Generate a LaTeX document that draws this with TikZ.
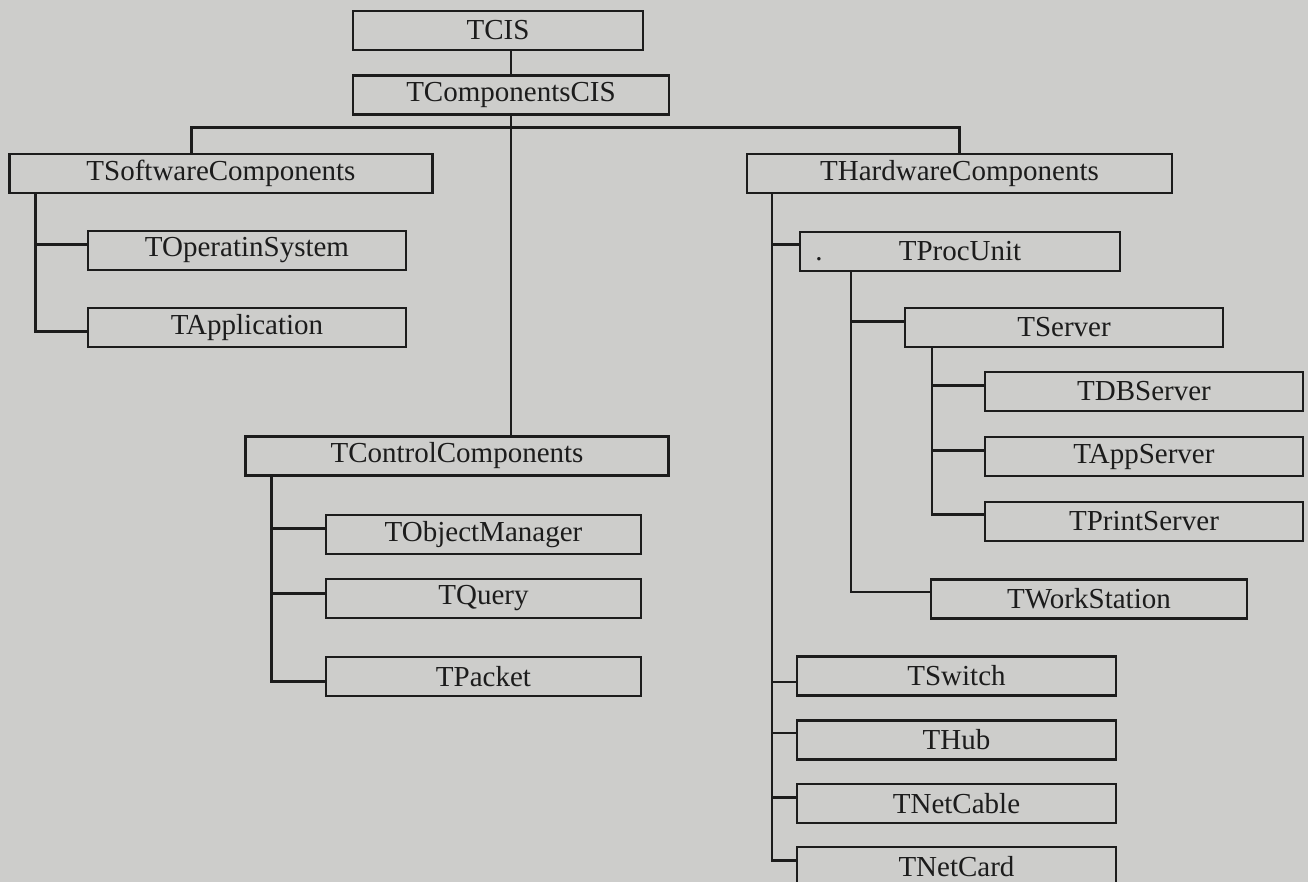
\documentclass[tikz,border=0pt]{standalone}
\usepackage{fontspec}
\setmainfont{Liberation Serif}
\usetikzlibrary{calc}
\definecolor{paper}{RGB}{205,205,203}
\definecolor{ink}{RGB}{28,28,28}
\begin{document}
\begin{tikzpicture}[x=0.5pt,y=-0.5pt]
      \tikzset{
	  cls/.style={draw=ink, line width=1.1pt, inner sep=0pt, minimum height=19.5pt, minimum width=159pt, text=ink, font=\fontsize{14.5}{17}\selectfont},
	  wide/.style={cls, minimum width=211.5pt},
	  link/.style={draw=ink, line width=1.1pt}
      }

      %-----#1 trunk coordinate, #2 child node, #3 vertical shift of
      %-----the branch against the middle of the child
      \def\branch[#1,#2,#3]{\draw[link] (#1) |- ($(#2.west)+(0,#3)$);}

      \fill[paper] (0,0) rectangle (1308,882);
      \useasboundingbox (0,0) rectangle (1308,882);

      %-----root
      \node (tcis) at (498,30.5) [cls, minimum width=145pt] {TCIS};
      \node (tcomp) at (511,95) [cls, minimum width=158pt] {TComponentsCIS};

      %-----second level
      \node (tsoft) at (221,173.5) [wide] {TSoftwareComponents};
      \node (thard) at (959.5,173.5) [wide, minimum width=212.5pt] {THardwareComponents};
      \node (tctrl) at (457,456) [wide] {TControlComponents};

      %-----software
      \node (tos) at (247,250.5) [cls] {TOperatinSystem};
      \node (tapp) at (247,327.5) [cls] {TApplication};

      %-----control
      \node (tobj) at (483.5,534.5) [cls, minimum width=157.5pt] {TObjectManager};
      \node (tquery) at (483.5,598.5) [cls, minimum width=157.5pt] {TQuery};
      \node (tpacket) at (483.5,676.5) [cls, minimum width=157.5pt] {TPacket};

      %-----hardware
      \node (tproc) at (960,251.5) [cls, minimum width=160pt] {TProcUnit};
      \node (procdot) at (819,259) [text=ink, inner sep=0pt, font=\fontsize{14.5}{17}\selectfont] {.};
      \node (tserver) at (1064,327.5) [cls] {TServer};
      \node (tdb) at (1144,391.5) [cls] {TDBServer};
      \node (tappsrv) at (1144,456.5) [cls] {TAppServer};
      \node (tprint) at (1144,521.5) [cls] {TPrintServer};
      \node (twork) at (1089,599) [cls, minimum width=158pt] {TWorkStation};
      \node (tswitch) at (956.5,676) [cls, minimum width=159.5pt] {TSwitch};
      \node (thub) at (956.5,740) [cls, minimum width=159.5pt] {THub};
      \node (tcable) at (956.5,803.5) [cls, minimum width=159.5pt] {TNetCable};
      \node (tcard) at (956.5,866.5) [cls, minimum width=159.5pt] {TNetCard};

      %-----upper links
      \draw[link] (tcomp.north) -- (tcomp.north |- tcis.south);
      \coordinate (swtop) at ($(tsoft.north west)+(183,0)$);
      \coordinate (bus) at ($(tcomp.south)+(0,12)$);
      \draw[link] (swtop) |- (bus) -| (thard.north);
      \draw[link] (tcomp.south) -- (tcomp.south |- tctrl.north);

      %-----trunks
      \coordinate (swroot) at ($(tsoft.south west)+(27,0)$);
      \coordinate (hwroot) at ($(thard.south west)+(26,0)$);
      \coordinate (procroot) at ($(tproc.south west)+(52,0)$);
      \coordinate (srvroot) at ($(tserver.south west)+(28,0)$);
      \coordinate (ctrlroot) at ($(tctrl.south west)+(27,0)$);

      \branch[swroot,tos,-6]
      \branch[swroot,tapp,4]

      \branch[ctrlroot,tobj,-6]
      \branch[ctrlroot,tquery,-5]
      \branch[ctrlroot,tpacket,5]

      \branch[hwroot,tproc,-7]
      \branch[hwroot,tswitch,6]
      \branch[hwroot,thub,-7]
      \branch[hwroot,tcable,-6]
      \branch[hwroot,tcard,-6]

      \branch[procroot,tserver,-6]
      \branch[procroot,twork,-7]

      \branch[srvroot,tdb,-6]
      \branch[srvroot,tappsrv,-6]
      \branch[srvroot,tprint,-7]
\end{tikzpicture}
\end{document}
